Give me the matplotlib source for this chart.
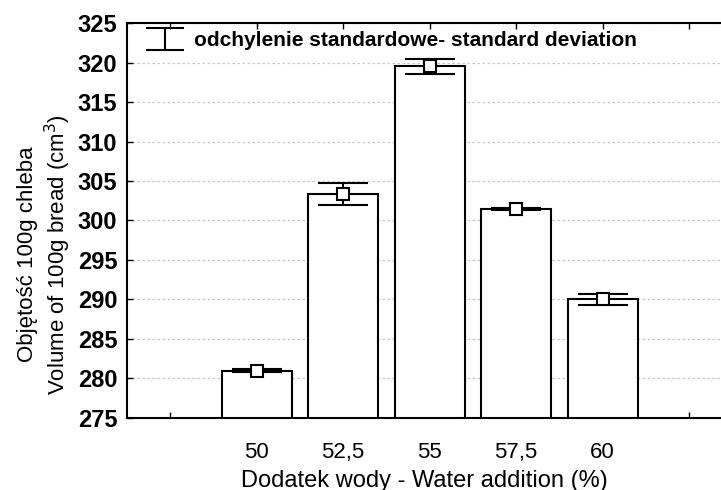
import matplotlib
matplotlib.use('Agg')
import matplotlib.pyplot as plt
from matplotlib.path import Path
from matplotlib.lines import Line2D
import numpy as np

plt.rcParams['font.family'] = ['Liberation Sans', 'DejaVu Sans']

# dane
categories = ['50', '52,5', '55', '57,5', '60']
volume = [281.0, 303.3, 319.5, 301.5, 290.0]
sd = [0.15, 1.4, 1.0, 0.12, 0.65]

fig = plt.figure(figsize=(7.21, 4.90), dpi=100)
ax = fig.add_axes([0.176, 0.147, 0.824, 0.806])

x = np.arange(len(categories))
ax.bar(x, volume, width=0.81, color='white', edgecolor='black',
       linewidth=1.5, zorder=2)
ax.errorbar(x, volume, yerr=sd, fmt='s', color='black', mfc='white', mec='black',
            ms=8, mew=1.5, ecolor='black', elinewidth=1.5, capsize=18,
            capthick=1.5, zorder=3)

# legenda - symbol odchylenia w kształcie "I"
i_path = Path([(-1, 0.6), (1, 0.6), (0, 0.6), (0, -0.6), (-1, -0.6), (1, -0.6)],
              [Path.MOVETO, Path.LINETO, Path.MOVETO, Path.LINETO,
               Path.MOVETO, Path.LINETO])
handle = Line2D([], [], marker=i_path, markersize=27, linestyle='none',
                color='black', markeredgewidth=1.5)
ax.legend([handle], ['odchylenie standardowe- standard deviation'],
          loc='upper left', frameon=False,
          prop={'weight': 'bold', 'size': 15}, handlelength=2.2,
          bbox_to_anchor=(0.012, 1.0), borderaxespad=0.2, borderpad=0.2,
          handletextpad=0.3)

ax.set_ylim(275, 325)
ax.set_xlim(-1.5, 5.37)
ax.set_yticks(np.arange(275, 326, 5))
ax.set_xticks(np.arange(-1, 6))
ax.set_xticklabels([''] + categories + [''])
for lab in ax.get_yticklabels():
    lab.set_fontweight('bold')
ax.tick_params(axis='y', labelsize=17, direction='in', length=4, width=1, pad=7)
ax.tick_params(axis='x', labelsize=16, direction='in', length=4, width=1,
               top=True, pad=17)

ax.yaxis.grid(True, color='#c8c8c8', linestyle=(0, (2, 2)), linewidth=0.9, zorder=0)
ax.set_axisbelow(True)

ax.spines['right'].set_visible(False)
for s in ['left', 'top', 'bottom']:
    ax.spines[s].set_linewidth(1.5)

ax.set_xlabel('Dodatek wody - Water addition (%)', fontsize=17, labelpad=5)
ax.set_ylabel('Objętość 100g chleba\nVolume of 100g bread (cm$^3$)',
              fontsize=16, linespacing=1.25)
ax.yaxis.set_label_coords(-0.09, 0.415)

fig.savefig('out.png', dpi=100)
